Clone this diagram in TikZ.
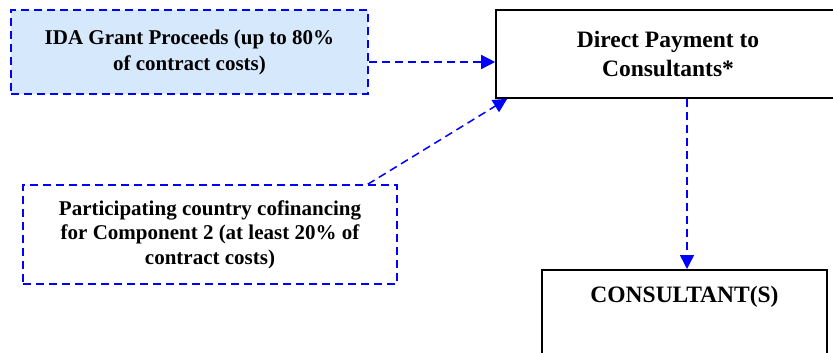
\documentclass[tikz,border=0pt]{standalone}
\usepackage{fontspec}
\setmainfont{Liberation Serif}
\usetikzlibrary{positioning}
\usetikzlibrary{arrows.meta}
\definecolor{idafill}{RGB}{214,232,251}
\tikzset{
    mynodeb/.style = {rectangle, line width=1.5pt, draw=blue, dash pattern=on 8pt off 5pt, align=center, fill=idafill, font=\fontsize{21}{26}\selectfont\bfseries, text=black},
    mynoded/.style = {rectangle, line width=1.5pt, draw=blue, dash pattern=on 8pt off 5pt, align=center, fill=white, font=\fontsize{21}{24.5}\selectfont\bfseries, text=black},
    mynodek/.style = {rectangle, line width=1.6pt, draw=black, align=center, fill=white, font=\fontsize{23.5}{28.5}\selectfont\bfseries, text=black},
    edgeb/.style = {-{Triangle[length=14pt,width=14pt]}, line width=1.5pt, blue, dash pattern=on 8pt off 5pt}, % payment flow
}

\begin{document}
\begin{tikzpicture}[x=1pt,y=1pt]
  \useasboundingbox (0,0) rectangle (833,-353);
  \node[mynodeb, minimum width=357pt, minimum height=84pt] (ida) at (189.5,-52)
    {IDA Grant Proceeds (up to 80\%\\of contract costs)};
  \node[mynodek, minimum width=344pt, minimum height=88pt] (direct) at (668,-54)
    {Direct Payment to\\Consultants*};
  \node[mynoded, minimum width=374pt, minimum height=99pt] (cofin) at (210,-234.5)
    {Participating country cofinancing\\for Component 2 (at least 20\% of\\contract costs)};
  \node[mynodek, minimum width=285pt, anchor=north, inner ysep=17pt, text height=16pt, text depth=70pt] (consultant) at (684.5,-269)
    {CONSULTANT(S)};
  \draw[edgeb] ([yshift=-10pt]ida.east) -- ([yshift=-10pt]ida.east -| direct.west);
  \draw[edgeb] ([xshift=-30pt]cofin.north east) -- ([xshift=12pt]direct.south west);
  \draw[edgeb] ([xshift=2.5pt]consultant.north |- direct.south) -- ([xshift=2.5pt]consultant.north);
\end{tikzpicture}
\end{document}
